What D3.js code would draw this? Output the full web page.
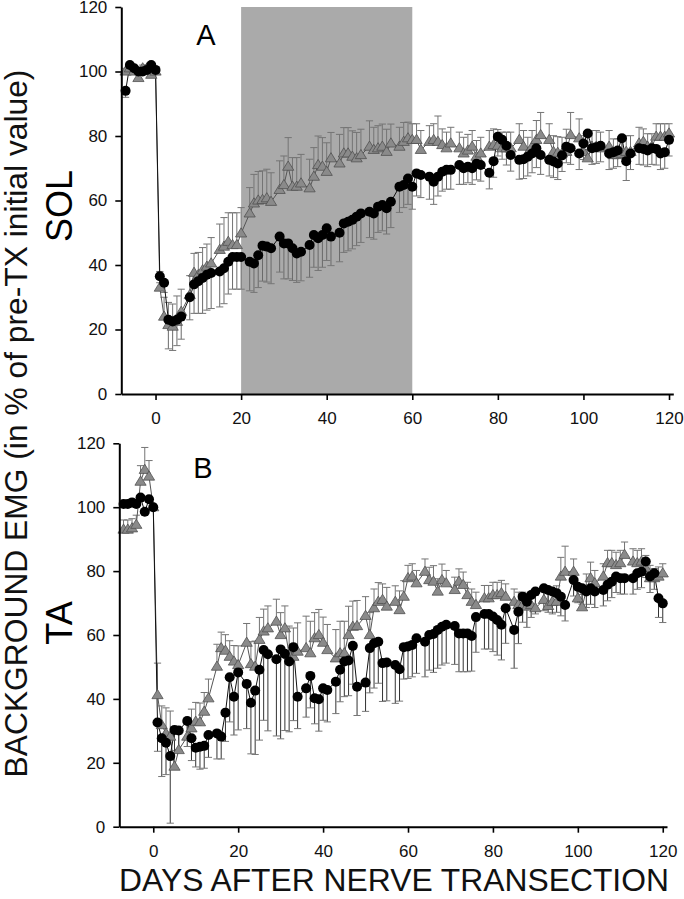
<!DOCTYPE html>
<html><head><meta charset="utf-8">
<script src="https://cdn.jsdelivr.net/npm/d3@7"></script>
<style>body{margin:0;background:#fff}svg{display:block}</style>
</head><body>
<svg id="c" width="684" height="899"></svg>
<script>
// ---------- DATA ----------
const preDays = [-7,-6,-5,-4,-3,-2,-1,0];
const postDays = [1,2,3,4,5,6, 8,9,10,11,12,13, 15,16,17,18,19,20, 22,23,24,25,26,27,
  29,30,31,32,33,34, 36,37,38,39,40,41, 43,44,45,46,47,48, 50,51,52,53,54,55,
  57,58,59,60,61,62, 64,65,66,67,68,69, 71,72,73,74,75,76, 78,79,80,81,82,83,
  85,86,87,88,89,90, 92,93,94,95,96,97, 99,100,101,102,103,104, 106,107,108,109,110,111,
  113,114,115,116,117,118, 119,120];
const days = preDays.concat(postDays);

// Panel A (SOL): black circles, mean and downward SEM
const solCircle = [94,102,101,100,100,100.5,102,100.5,
  36.5,34.5,23,22.5,23,24, 30,34,35,36,37,37.5, 38,39,41,42.5,42.5,42.5, 41,40.5,43,46,45.7,45.2,
  48.8,46.7,46.7,45.2,43.6,44.1, 46.2,49.3,48.3,49.3,51.4,48.8, 50,52.9,53.4,54,55,56,
  56.5,56,58.1,58.6,57.6,59.6, 64.3,64.8,66.8,64.3,68.4,67.9, 67.4,65.8,67.4,68.9,69.5,69.5,
  71,70,70.5,70,71.4,71, 68.6,72.2,79.8,78.8,77,74.1, 72.6,72.8,73.6,74.6,76.2,74.1,
  72.6,72.1,71.5,74,76.7,76.2, 74.6,77.7,80.8,76.2,76.5,77, 74.6,75,75.5,79.3,72.2,74.6,
  76.2,76,75.5,76.2,76,74.6, 75,78.8];
const solCircleErr = [2,1,1,1,1,1,1,1,
  2,3,9,9,8,7, 7,9,10,11,11,11, 11,11,10,10,10,10, 9,9,10,11,11,11,
  11,11,11,10,9,9, 10,10,10,10,10,9, 9,9,9,9,9,9,
  8,8,8,8,8,8, 8,7,8,7,7,7, 7,7,6,6,6,6,
  6,5,5,5,5,5, 5,5,6,6,6,5, 6,6,6,6,6,6,
  5,5,5,5,5,5, 5,5,5,5,5,5, 5,5,5,5,6,5,
  5,5,5,5,5,5, 5,5];
// Panel A (SOL): gray triangles, mean and upward SEM
const solTriangle = [100,101,100,98,101,101,99,100,
  33,24,21.4,20.9,22.4,25.5, 30.7,37.6,36.9,38.4,39.5,40.5, 44.7,45.7,47.2,46.2,46.2,49.8,
  56,59.1,60,60.2,60.7,59.6, 63.3,64.8,70.5,64.3,64.3,65.3, 63.8,67.4,71,70.5,68.9,73.1,
  71.5,74.6,74.6,73.6,73.1,74.1, 76.7,75.7,76.2,76.7,75.1,77.7, 76.7,78.2,79.3,78.8,78.8,75.7,
  78.2,78.8,78.2,77.2,76.2,77.7, 76.2,74.6,75.5,76.7,73.6,74.6, 76.7,77.2,77,76.2,76.2,76.2,
  78.8,76.7,74.6,76.7,78.8,80.3, 78.8,75.1,74.8,74.6,75.1,80.3, 79.3,75.1,73.1,76.7,76.7,76.2,
  76.7,74.1,74.1,74.5,75.1,75.1, 77.7,78.2,76.7,76.7,79.8,79.8, 79.8,80.8];
const solTriangleErr = [1,1,1,2,1,1,2,1,
  5,6,7,7,8,7, 6,6,7,7,7,8, 8,9,9,10,10,8,
  8,9,9,9,9,9, 9,9,9,9,9,9, 9,9,9,9,9,8,
  9,8,8,8,8,8, 8,7,7,7,7,6, 6,6,5,5,5,6,
  5,5,8,5,5,5, 5,5,5,5,5,5, 5,5,5,5,5,5,
  5,5,5,5,6,7, 5,5,5,5,7,7, 6,5,5,5,5,5,
  5,5,5,5,5,5, 5,4,4,4,4,4, 4,3];

// Panel B (TA): black circles
const taCircle = [101,101,101.5,101,103,98.6,102.5,100,
  32.6,27.7,26.3,22.1,30.3,30.1, 33.1,27.7,24.7,25,25.3,28.7, 29.2,28.2,35.7,46.8,40.7,48.3,
  44.7,38.8,42.6,49.1,55.3,54, 52.4,55.5,54.1,51.7,56.2,40.7, 43.3,47.2,40.2,39.9,43.3,42.8,
  45.4,49.1,51.7,52,56.6,43.8, 45.1,55.9,57.4,57.9,51.2,51.4, 50.6,49.3,56.2,56.4,56.9,59,
  57.9,60,60.3,61.6,62.6,63.2, 62.8,60.5,60.5,60.5,59.7,65.6, 66.6,66.6,65.8,64.7,63.2,68.4,
  61.6,67.3,72,70.4,72.5,73.6, 74.6,74.1,73.6,73.1,72,69.4, 77.2,75.1,74.6,73.6,74.6,73.6,
  74.1,75.7,76.7,78.3,77.8,77.8, 77.8,79.3,79.8,83,78.3,79.3, 71.5,69.9];
const taCircleErr = [1,1,1,1,1,1,1,1,
  9,12,10,21,7,6, 8,7,6,7,7,7, 8,7,9,14,12,18,
  14,16,20,22,22,24, 24,28,24,22,23,10, 9,10,8,10,10,10,
  10,10,11,11,12,9, 9,14,14,13,12,12, 12,10,10,10,10,11,
  11,11,12,12,12,12, 12,12,12,12,11,11, 11,11,11,11,11,11,
  12,10,8,8,7,7, 7,7,7,6,6,5, 5,5,5,5,5,5,
  5,5,5,5,5,5, 5,5,5,5,5,5, 6,6];
// Panel B (TA): gray triangles
const taTriangle = [93,93,93.4,94.5,108,111.7,109.6,100,
  41.2,31.8,29.2,28.2,18.8,24, 28.2,30.8,32.9,32.7,36,40.2, 50.1,55.9,55.1,53.2,51.7,50.6,
  57.6,50.9,50.1,58.5,61.1,62.1, 64.2,60,62.1,53.8,53.2,54.8, 55.9,54.3,59,60,57.6,55.3,
  52.7,54.3,54.3,60,62.6,62.8, 66,60,68.4,70.4,71,68.9, 70.4,67.8,72,77.8,78.3,76.2,
  79.8,77.2,76.7,73.6,77.2,76.2, 74.1,76.7,75.7,72.5,70.4,69.4, 71.5,71.5,72.5,72.5,73.1,72,
  70.4,69.4,69.4,68.9,69.4,68.4, 71,69.1,70.4,70.4,78.3,79.8, 79.8,71.5,68.7,74.1,77.8,76.2,
  78.3,82.5,82.5,81.9,82.5,85.1, 83,82.5,83,80.9,77.8,77.8, 78.3,79.3];
const taTriangleErr = [3,3,3,3,5,7,5,1,
  10,6,8,8,5,5, 6,6,6,6,6,6, 7,5,5,5,5,6,
  6,7,8,7,7,7, 7,7,7,9,9,9, 10,10,8,8,8,8,
  9,10,10,9,8,8, 6,7,6,6,5,6, 5,6,5,4,4,4,
  4,4,5,4,5,4, 4,4,4,4,4,4, 4,4,4,4,4,4,
  4,4,4,4,4,4, 4,4,4,5,6,8, 4,4,4,5,5,4,
  4,4,4,4,4,4, 4,4,4,4,4,3, 3,3];

const xTickValues = [0,20,40,60,80,100,120];
const yTickValues = [0,20,40,60,80,100,120];
const shadeRange = [20,60];
const xTitle = "DAYS AFTER NERVE TRANSECTION";
const yTitle = "BACKGROUND EMG (in % of pre-TX initial value)";

// ---------- DRAWING ----------
const FONT = '"Liberation Sans", Arial, Helvetica, sans-serif';
const svg = d3.select('#c');

const panels = [
  {label:'A', muscle:'SOL', circ:solCircle, circErr:solCircleErr, tri:solTriangle, triErr:solTriangleErr,
   xr:[121.3,673.3], yr:[394,7], shade:true, circBar:'#6a6a6a', labelPos:[206,45], muscleY:206, tickY:424},
  {label:'B', muscle:'TA', circ:taCircle, circErr:taCircleErr, tri:taTriangle, triErr:taTriangleErr,
   xr:[119.3,667], yr:[826.7,443.3], shade:false, circBar:'#333', labelPos:[203,478], muscleY:623, tickY:857}
];

const triPath = 'M0,-5.6L5.6,3.6L-5.6,3.6Z';

panels.forEach(p => {
  const x = d3.scaleLinear().domain([-8,121]).range(p.xr);
  const y = d3.scaleLinear().domain([0,120]).range(p.yr);
  const g = svg.append('g');

  if (p.shade) {
    g.append('rect')
      .attr('x', x(shadeRange[0])).attr('y', y(120))
      .attr('width', x(shadeRange[1]) - x(shadeRange[0]))
      .attr('height', y(0) - y(120))
      .attr('fill', '#aaaaaa');
  }

  const tri = days.map((d,i)=>({d, v:p.tri[i], e:p.triErr[i]}));
  const cir = days.map((d,i)=>({d, v:p.circ[i], e:p.circErr[i]}));
  const line = d3.line().x(o=>x(o.d)).y(o=>y(o.v));

  // error bars: triangles upward, circles downward
  const cap = 3.6;
  const tb = g.append('g').attr('stroke','#747474').attr('stroke-width',1).attr('fill','none');
  tri.forEach(o=>{
    tb.append('line').attr('x1',x(o.d)).attr('x2',x(o.d)).attr('y1',y(o.v)).attr('y2',y(o.v+o.e));
    tb.append('line').attr('x1',x(o.d)-cap).attr('x2',x(o.d)+cap).attr('y1',y(o.v+o.e)).attr('y2',y(o.v+o.e));
  });
  const cb = g.append('g').attr('stroke',p.circBar).attr('stroke-width',1).attr('fill','none');
  cir.forEach(o=>{
    cb.append('line').attr('x1',x(o.d)).attr('x2',x(o.d)).attr('y1',y(o.v)).attr('y2',y(o.v-o.e));
    cb.append('line').attr('x1',x(o.d)-cap).attr('x2',x(o.d)+cap).attr('y1',y(o.v-o.e)).attr('y2',y(o.v-o.e))
      .attr('stroke','#777');
  });

  g.append('path').attr('d', line(tri)).attr('fill','none').attr('stroke','#555').attr('stroke-width',1);
  g.append('path').attr('d', line(cir)).attr('fill','none').attr('stroke','#111').attr('stroke-width',1);

  g.append('g').selectAll('path').data(tri).join('path')
    .attr('d', triPath)
    .attr('transform', o=>`translate(${x(o.d)},${y(o.v)})`)
    .attr('fill','#8a8a8a').attr('stroke','#505050').attr('stroke-width',0.8);
  g.append('g').selectAll('circle').data(cir).join('circle')
    .attr('cx', o=>x(o.d)).attr('cy', o=>y(o.v)).attr('r', 5)
    .attr('fill','#000');

  // axes
  const yAxis = d3.axisLeft(y).tickValues(yTickValues).tickSize(6).tickSizeOuter(0).tickPadding(8);
  const xAxis = d3.axisBottom(x).tickValues(xTickValues).tickSize(6).tickSizeOuter(0).tickPadding(7);
  const ya = g.append('g').attr('transform',`translate(${p.xr[0]},0)`).call(yAxis);
  const xa = g.append('g').attr('transform',`translate(0,${p.yr[0]})`).call(xAxis);
  [ya,xa].forEach(a=>{
    a.select('.domain').attr('stroke','#000').attr('stroke-width',2);
    a.selectAll('.tick line').attr('stroke','#000').attr('stroke-width',1.6);
    a.selectAll('.tick text').attr('font-family',FONT).attr('font-size',17).attr('fill','#111');
  });
  xa.selectAll('.tick text').attr('dy', null).attr('y', p.tickY - p.yr[0]);

  g.append('text').text(p.label)
    .attr('x', p.labelPos[0]).attr('y', p.labelPos[1])
    .attr('text-anchor','middle').attr('font-family',FONT).attr('font-size',29).attr('fill','#000');
  g.append('text').text(p.muscle)
    .attr('transform',`translate(72,${p.muscleY}) rotate(-90)`)
    .attr('text-anchor','middle').attr('font-family',FONT).attr('font-size',36).attr('fill','#000');
});

// titles (fit to measured extents of the reference)
function fit(sel, target){
  const len = sel.node().getComputedTextLength();
  const fs = parseFloat(sel.attr('font-size'));
  sel.attr('font-size', fs*target/len);
}
const yt = svg.append('text').text(yTitle)
  .attr('transform','translate(27,423.5) rotate(-90)')
  .attr('text-anchor','middle').attr('font-family',FONT).attr('font-size',31).attr('fill','#111');
fit(yt, 708);
const xt = svg.append('text').text(xTitle)
  .attr('x', 394).attr('y', 891)
  .attr('text-anchor','middle').attr('font-family',FONT).attr('font-size',32).attr('fill','#111');
fit(xt, 550);
</script>
</body></html>
